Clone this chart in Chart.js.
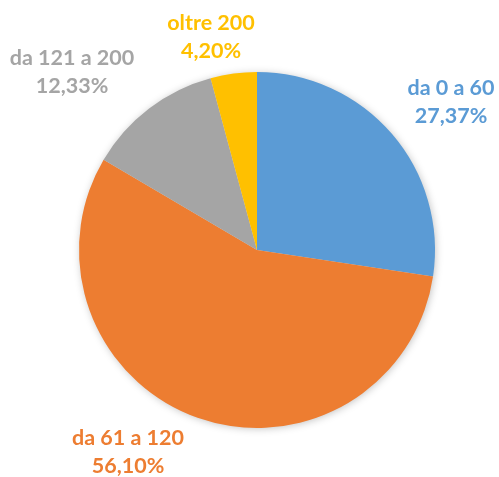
<!DOCTYPE html>
<html>
<head>
<meta charset="utf-8">
<script src="https://cdn.jsdelivr.net/npm/chart.js@4"></script>
<style>
  html, body { margin: 0; padding: 0; background: #fff; }
  #wrap { width: 499px; height: 477px; position: relative; }
</style>
</head>
<body>
<div id="wrap"><canvas id="pieChart"></canvas></div>
<script>
// dati
const categories = ['da 0 a 60', 'da 61 a 120', 'da 121 a 200', 'oltre 200'];
const percentages = [27.37, 56.10, 12.33, 4.20];
const sliceColors = ['#5B9BD5', '#ED7D31', '#A5A5A5', '#FFC000'];

// posizione delle etichette (centro della prima riga)
const labelPos = [[451, 88], [128, 438], [72, 58], [211, 23]];

const fmt = v => v.toFixed(2).replace('.', ',') + '%';

// ombra leggera sotto la torta
const pieShadow = {
  id: 'pieShadow',
  beforeDatasetsDraw(chart) {
    const arc = chart.getDatasetMeta(0).data[0];
    if (!arc) return;
    const ctx = chart.ctx;
    ctx.save();
    ctx.shadowColor = 'rgba(0,0,0,0.28)';
    ctx.shadowBlur = 9;
    ctx.shadowOffsetX = 1;
    ctx.shadowOffsetY = 1;
    ctx.fillStyle = '#ddd';
    ctx.beginPath();
    ctx.arc(arc.x, arc.y, arc.outerRadius - 1, 0, Math.PI * 2);
    ctx.fill();
    ctx.restore();
  }
};

// etichette esterne
const outLabels = {
  id: 'outLabels',
  afterDatasetsDraw(chart) {
    const ctx = chart.ctx;
    ctx.save();
    ctx.font = 'bold 21.5px Lato';
    ctx.textAlign = 'center';
    ctx.textBaseline = 'middle';
    categories.forEach((c, i) => {
      const [x, y] = labelPos[i];
      ctx.fillStyle = sliceColors[i];
      ctx.fillText(c, x, y);
      ctx.fillText(fmt(percentages[i]), x, y + 28);
    });
    ctx.restore();
  }
};

const ctx = document.getElementById('pieChart').getContext('2d');
new Chart(ctx, {
  type: 'pie',
  data: {
    labels: categories,
    datasets: [{ data: percentages, backgroundColor: sliceColors, borderWidth: 0 }]
  },
  options: {
    responsive: true,
    maintainAspectRatio: false,
    animation: false,
    layout: { padding: { top: 72, bottom: 49, left: 79, right: 64 } },
    plugins: { legend: { display: false }, tooltip: { enabled: false } }
  },
  plugins: [pieShadow, outLabels]
});
</script>
</body>
</html>
